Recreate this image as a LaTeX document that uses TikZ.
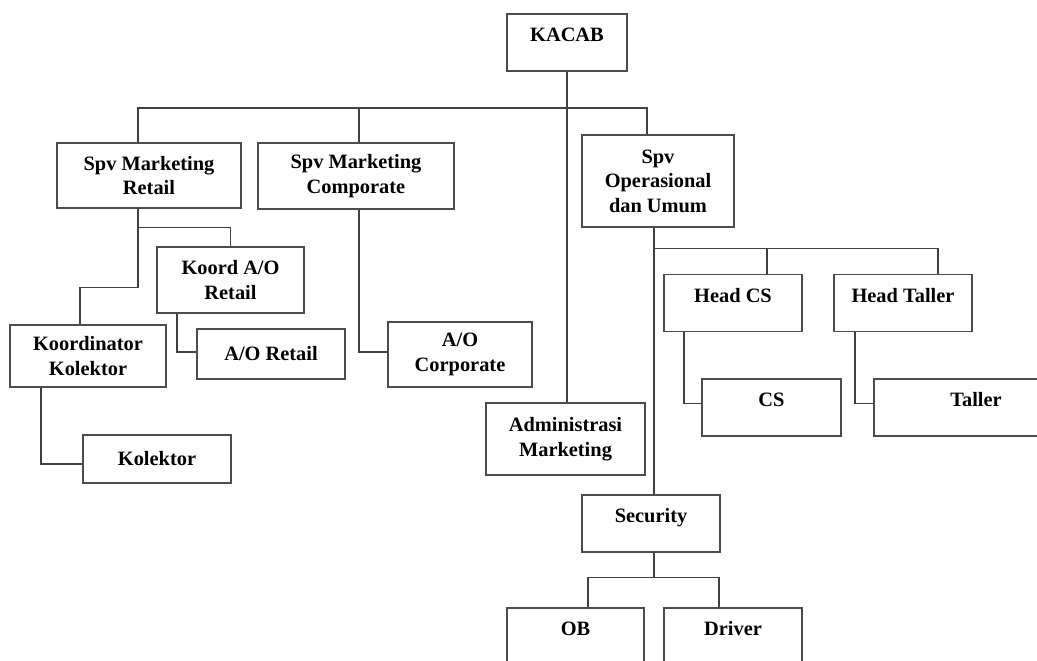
\documentclass[tikz,border=0pt]{standalone}
\usepackage{fontspec}
\setmainfont{Liberation Serif}
\usetikzlibrary{positioning, calc}

\begin{document}
\begin{tikzpicture}[
    x=0.025cm, y=-0.025cm,
    box/.style={draw=black!70, line width=1pt, align=center, inner sep=0pt,
                font=\fontsize{14.5}{17.5}\selectfont\bfseries},
    topbox/.style={box, text height=19.8pt, text depth=20.7pt},
    link/.style={draw=black!75, line width=0.9pt}
]
    \useasboundingbox (0,0) rectangle (1037,660);
    \clip (0,0) rectangle (1037,660);

    % Top level
    \node[topbox, minimum width=3cm] (kacab) at (567,42.5) {KACAB};

    % Supervisors
    \node[box, minimum width=4.6cm, minimum height=1.625cm] (smr) at (149,175.5) {Spv Marketing\\Retail};
    \node[box, minimum width=4.9cm, minimum height=1.65cm] (smc) at (356,176) {Spv Marketing\\Comporate};
    \node[box, minimum width=3.8cm, minimum height=2.3cm] (sou) at (658,181) {Spv\\Operasional\\dan Umum};

    % Marketing side
    \node[box, minimum width=3.675cm, minimum height=1.65cm] (koordao) at (230.5,280) {Koord A/O\\Retail};
    \node[box, minimum width=3.7cm, minimum height=1.25cm] (aoretail) at (271,354) {A/O Retail};
    \node[box, minimum width=3.9cm, minimum height=1.55cm] (kk) at (88,356) {Koordinator\\Kolektor};
    \node[box, minimum width=3.7cm, minimum height=1.2cm] (kolektor) at (157,459) {Kolektor};
    \node[box, minimum width=3.6cm, minimum height=1.625cm] (aocorp) at (460,354.5) {A/O\\Corporate};
    \node[box, minimum width=3.975cm, minimum height=1.8cm] (admin) at (565.5,439) {Administrasi\\Marketing};

    % Operasional side
    \node[topbox, minimum width=3.45cm] (headcs) at (733,303) {Head CS};
    \node[topbox, minimum width=3.45cm] (headtaller) at (903,303) {Head Taller};
    \node[topbox, minimum width=3.475cm] (cs) at (771.5,407.5) {CS};
    \node[topbox, minimum width=5.1cm] (taller) at (976,407.5) {Taller};
    \node[topbox, minimum width=3.45cm] (security) at (651,523.5) {Security};
    \node[topbox, minimum width=3.425cm] (ob) at (575.5,636.5) {OB};
    \node[topbox, minimum width=3.45cm] (driver) at (733,636.5) {Driver};

    % Connectors from KACAB
    \coordinate (bus) at (0,108);
    \path ($(smr.north)+(-11,0)$) coordinate (smrtop)
          ($(smc.north)+(3,0)$) coordinate (smctop)
          ($(sou.north)+(-11,0)$) coordinate (soutop);
    \draw[link] (kacab.south) -- (kacab.south |- admin.north);
    \draw[link] (smrtop) |- (bus -| soutop) -- (soutop);
    \draw[link] (smctop) -- (smctop |- bus);

    % Marketing retail branch
    \draw[link] ($(smr.south)+(-11,0)$) -- ++(0,79) -| ($(kk.north)+(-8,0)$);
    \draw[link] ($(smr.south)+(-11,19)$) -| (koordao.north);
    \draw[link] ($(koordao.south)+(-53.5,0)$) |- ($(aoretail.west)+(0,-2)$);
    \draw[link] ($(kk.south)+(-47,0)$) |- ($(kolektor.west)+(0,5)$);
    \draw[link] ($(smc.south)+(3,0)$) |- ($(aocorp.west)+(0,-2.5)$);

    % Operasional branch
    \coordinate (soudrop) at ($(sou.south)+(-4,0)$);
    \draw[link] (soudrop) -- (soudrop |- security.north);
    \draw[link] ($(soudrop)+(0,21)$) -| ($(headtaller.north)+(35,0)$);
    \draw[link] ($(headcs.north)+(34,0)$) -- ++(0,-26);
    \draw[link] ($(headcs.south)+(-49,0)$) |- ($(cs.west)+(0,-4)$);
    \draw[link] ($(headtaller.south)+(-48,0)$) |- ($(taller.west)+(0,-4)$);
    \draw[link] ($(security.south)+(3,0)$) -- ++(0,25) coordinate (secbus);
    \draw[link] ($(ob.north)+(12.5,0)$) |- (secbus) -| ($(driver.north)+(-14,0)$);

\end{tikzpicture}
\end{document}
